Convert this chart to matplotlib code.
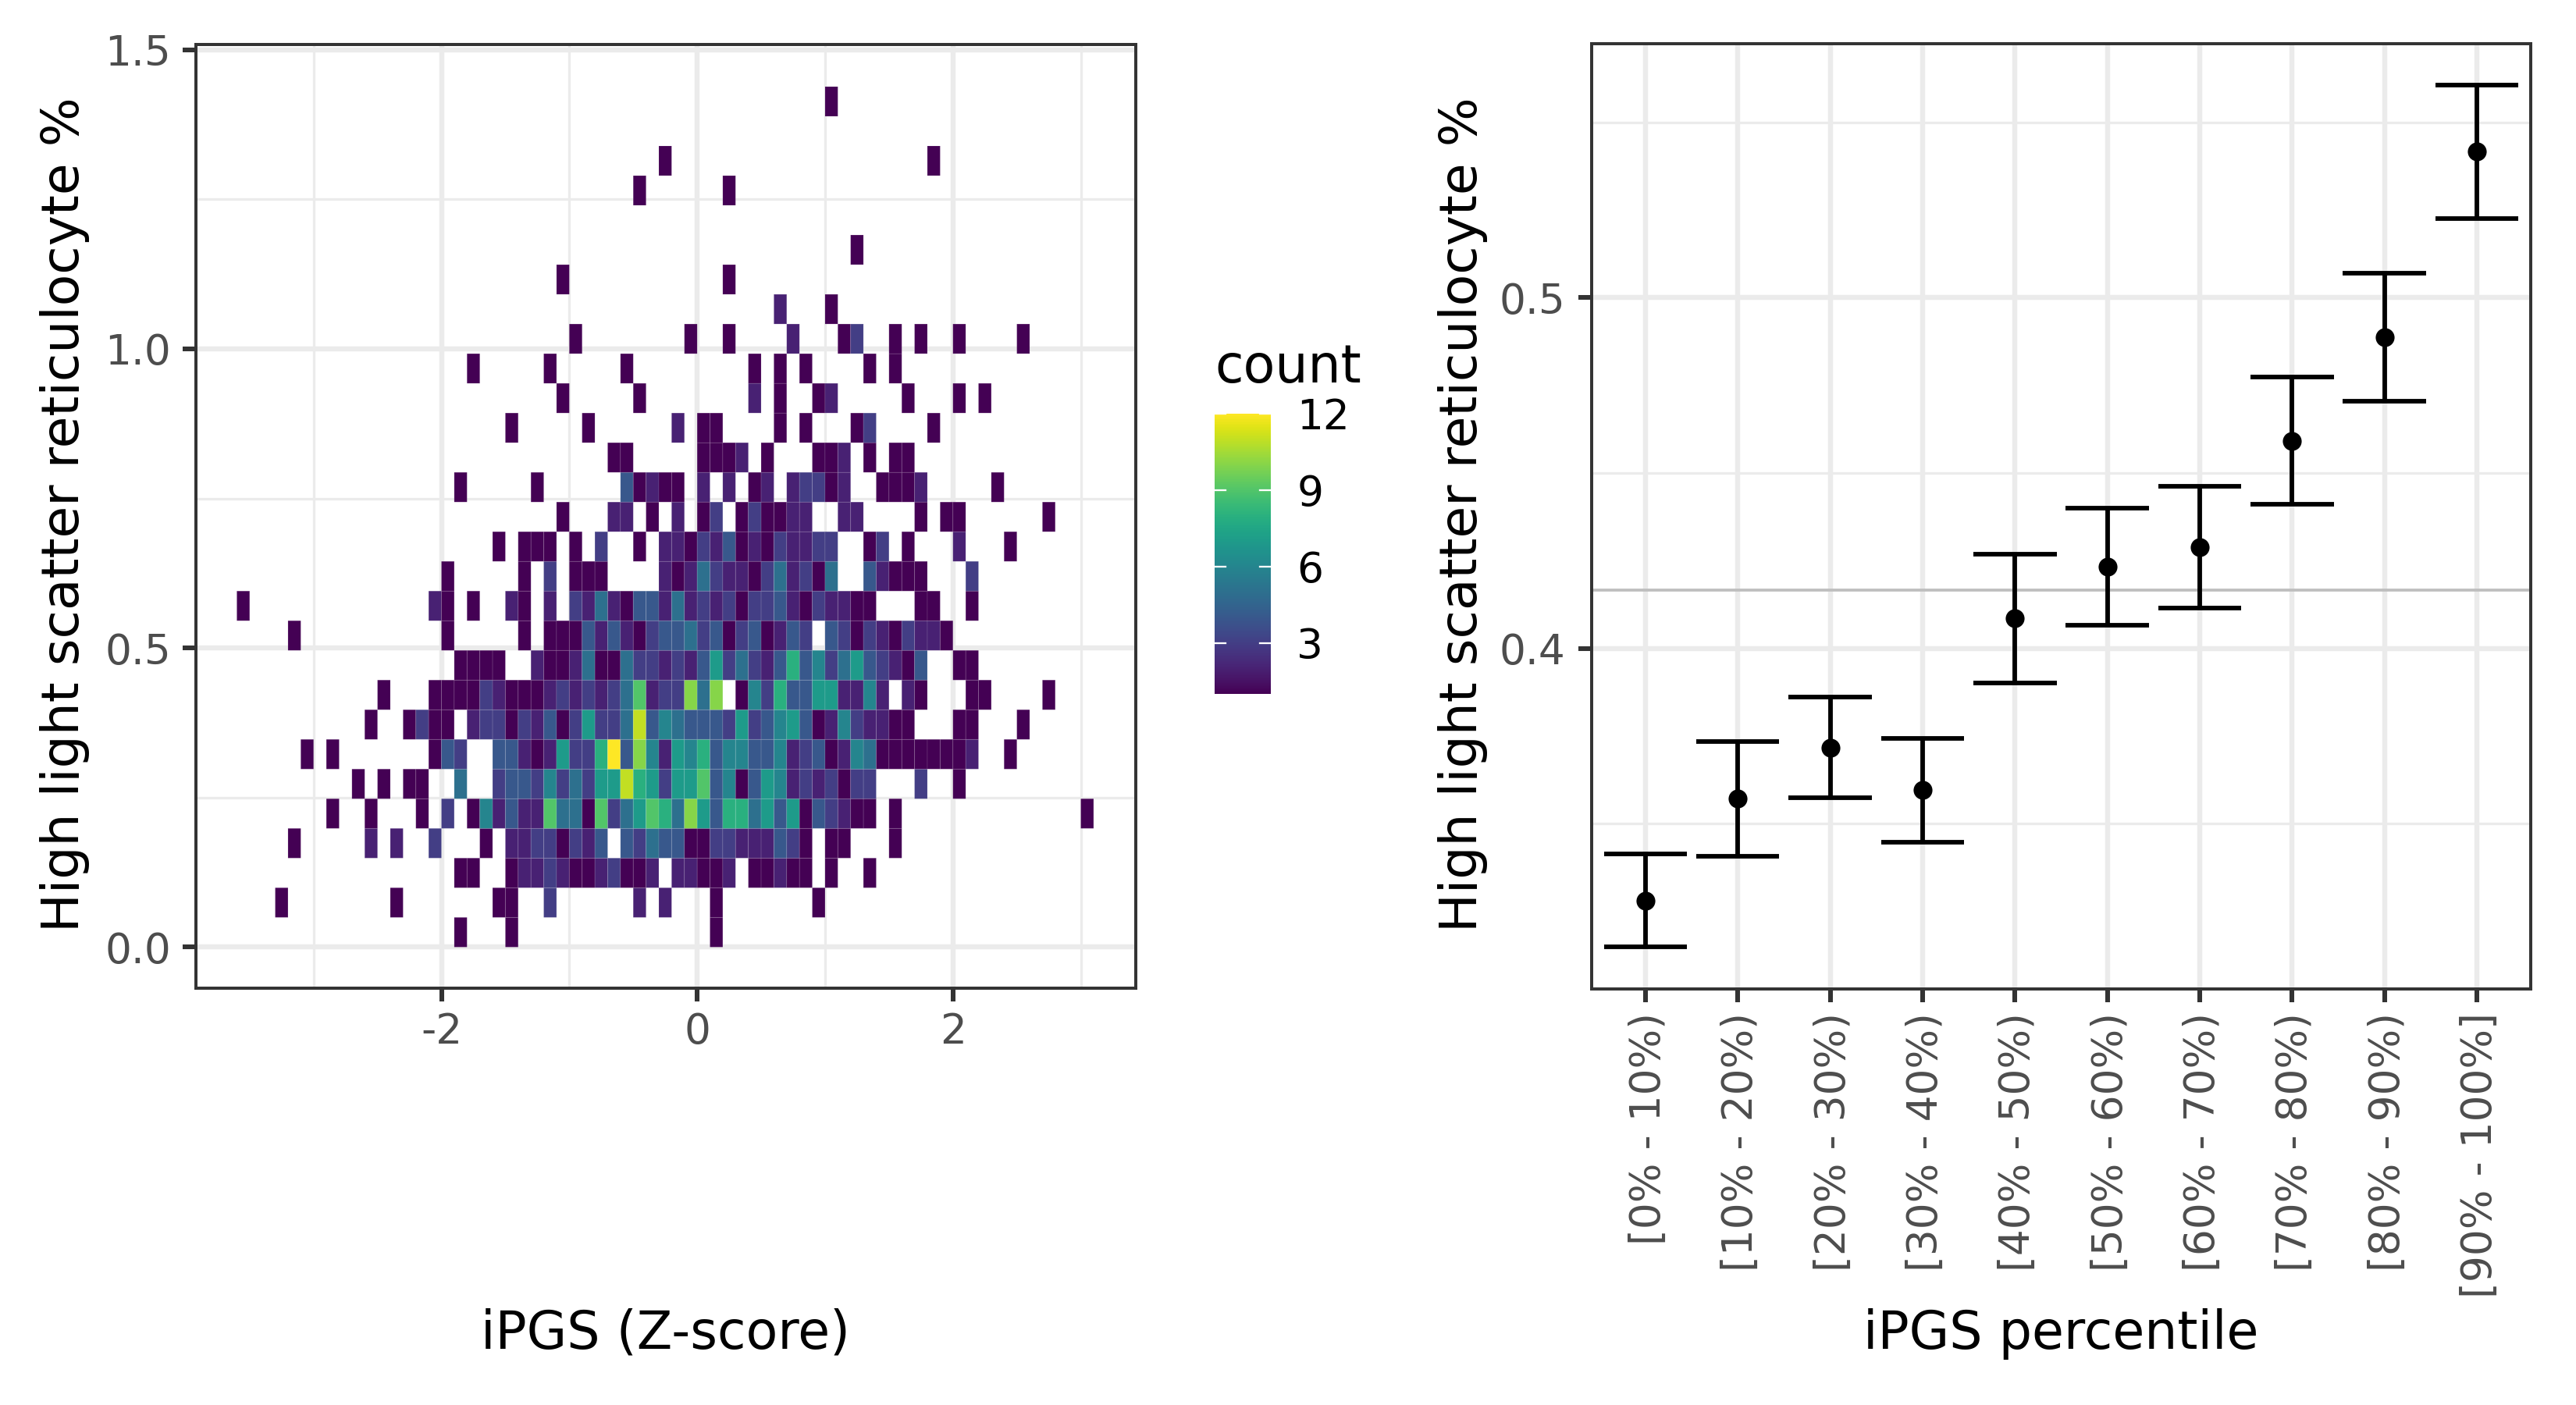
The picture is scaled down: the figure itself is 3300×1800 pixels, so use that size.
import numpy as np
import matplotlib
matplotlib.use("Agg")
import matplotlib.pyplot as plt
from matplotlib.transforms import ScaledTranslation

# ---------- left panel: count per bin, {x bin index (x = index * width): count}
row_00 = {-19:1,-15:1,1:1}
row_01 = {-33:1,-24:1,-16:1,-15:1,-12:3,-5:2,-3:2,1:1,9:1}
row_02 = {-19:1,-18:1,-15:1,-14:2,-13:2,-12:3,-11:2,-10:1,-9:1,-8:2,-7:3,-6:1,-5:1,-4:2,-2:2,-1:2,0:1,1:1,2:2,4:1,5:1,6:2,7:1,8:1,10:1,13:1}
row_03 = {-32:1,-26:2,-24:2,-21:3,-17:1,-15:2,-14:2,-13:3,-12:3,-11:1,-10:3,-9:2,-8:4,-6:4,-5:3,-4:5,-3:4,-2:4,-1:1,0:1,1:3,2:3,3:2,4:2,5:2,6:4,7:3,8:1,10:1,11:1,15:1}
row_04 = {-29:1,-26:1,-22:1,-20:3,-18:1,-17:6,-16:2,-15:4,-14:2,-13:2,-12:9,-11:5,-10:5,-9:1,-8:9,-7:3,-6:5,-5:7,-4:9,-3:8,-2:5,-1:10,0:7,1:4,2:8,3:8,4:5,5:7,6:4,7:7,8:1,9:4,10:3,11:2,12:1,13:1,15:1,30:1}
row_05 = {-27:1,-25:1,-23:1,-22:1,-19:5,-16:3,-15:4,-14:4,-13:3,-12:6,-11:3,-10:5,-9:3,-8:7,-7:7,-6:11,-5:8,-4:7,-3:3,-2:7,-1:7,0:9,1:4,2:6,3:1,4:4,5:7,6:6,7:2,8:3,9:2,10:3,11:1,12:3,13:3,17:3,20:1}
row_06 = {-31:1,-29:1,-21:1,-20:4,-19:3,-16:4,-15:4,-14:2,-13:1,-12:2,-11:7,-10:3,-9:3,-8:8,-7:12,-6:4,-5:10,-4:6,-3:2,-2:7,-1:6,0:8,1:4,2:6,3:6,4:4,5:4,6:6,7:2,8:3,9:4,10:1,11:2,12:6,13:5,14:1,15:1,16:1,17:1,18:1,19:1,20:1,21:2,24:1}
row_07 = {-26:1,-23:1,-22:3,-21:1,-20:1,-18:2,-17:3,-16:3,-15:1,-14:3,-13:2,-12:4,-11:1,-10:3,-9:7,-8:3,-7:3,-6:5,-5:11,-4:4,-3:6,-2:5,-1:4,0:4,1:4,2:3,3:7,4:3,5:4,6:6,7:7,8:4,9:1,10:2,11:6,12:3,13:2,14:2,15:1,16:1,20:1,21:1,25:1}
row_08 = {-25:1,-21:1,-20:1,-19:1,-18:1,-17:3,-16:2,-15:1,-14:1,-13:1,-12:2,-11:3,-10:2,-9:3,-8:2,-7:3,-6:5,-5:9,-4:2,-3:3,-2:3,-1:10,0:5,1:10,3:1,4:6,5:3,6:8,7:4,8:4,9:7,10:7,11:2,12:2,13:6,14:2,16:2,17:1,21:1,22:1,27:1}
row_09 = {-19:1,-18:1,-17:1,-16:1,-13:2,-12:1,-11:1,-10:2,-9:5,-8:1,-7:1,-6:5,-5:3,-4:3,-3:2,-2:3,-1:2,0:4,1:7,2:3,3:5,4:3,5:2,6:4,7:8,8:4,9:6,10:3,11:5,12:7,13:4,14:3,15:2,16:1,17:4,20:1,21:1}
row_10 = {-32:1,-20:1,-14:1,-12:1,-11:1,-10:1,-9:4,-8:2,-7:4,-6:2,-5:1,-4:3,-3:4,-2:4,-1:5,0:3,1:4,2:1,3:3,4:4,5:1,6:2,7:4,8:3,10:4,11:3,12:1,13:3,14:2,15:1,16:3,17:2,18:2,19:1}
row_11 = {-36:1,-21:2,-20:1,-18:1,-15:2,-14:1,-12:2,-10:3,-9:2,-8:5,-7:2,-6:1,-5:4,-4:4,-3:2,-2:5,-1:2,0:3,1:2,2:3,3:1,4:3,5:3,6:4,7:2,8:1,9:3,10:2,11:2,12:1,13:1,17:1,18:1,21:1}
row_12 = {-20:1,-14:1,-12:3,-10:1,-9:1,-8:1,-3:2,-2:1,-1:2,0:5,1:3,2:2,3:2,4:1,5:3,6:5,7:2,8:3,9:1,10:5,13:4,14:2,15:1,16:1,17:1,21:3}
row_13 = {-16:1,-14:1,-13:1,-12:1,-10:1,-8:3,-5:1,-3:2,-2:2,-1:1,0:3,1:2,2:4,3:1,4:2,5:1,6:3,7:2,8:2,9:3,10:3,13:1,14:3,16:1,20:2,24:1}
row_14 = {-11:1,-7:2,-6:2,-4:1,-2:2,0:1,1:3,3:1,4:3,5:1,6:1,7:2,8:2,11:2,12:2,17:1,19:1,20:1,27:1}
row_15 = {-19:1,-13:1,-6:4,-5:1,-4:2,-3:1,-2:1,0:2,2:2,4:1,5:2,7:2,8:3,9:3,10:1,11:2,14:1,15:1,16:1,17:2,23:1}
row_16 = {-7:1,-6:1,0:1,1:1,2:1,3:2,5:1,9:1,10:1,11:2,13:1,15:1,16:1}
row_17 = {-15:1,-9:1,-2:2,0:1,1:1,6:1,8:1,12:1,13:3,18:1}
row_18 = {-11:1,-5:1,4:2,6:1,9:1,10:2,16:1,20:1,22:1}
row_19 = {-18:1,-12:1,-6:1,4:1,6:1,8:1,13:1,15:1}
row_20 = {-10:1,-1:1,2:1,7:2,11:1,12:3,15:1,17:1,20:1,25:1}
row_21 = {6:2,10:1}
row_22 = {-11:1,2:1}
row_23 = {12:1}
row_24 = {}
row_25 = {-5:1,2:1}
row_26 = {-3:1,18:1}
row_27 = {}
row_28 = {10:1}
count_rows = [row_00,row_01,row_02,row_03,row_04,row_05,row_06,row_07,row_08,row_09,
              row_10,row_11,row_12,row_13,row_14,row_15,row_16,row_17,row_18,row_19,
              row_20,row_21,row_22,row_23,row_24,row_25,row_26,row_27,row_28]
x_bin_width = 0.1
y_bin_height = 0.0496
x_bin_first, x_bin_last = -36, 30

# ---------- right panel
percentile_labels = ["[0% - 10%)","[10% - 20%)","[20% - 30%)","[30% - 40%)","[40% - 50%)",
                     "[50% - 60%)","[60% - 70%)","[70% - 80%)","[80% - 90%)","[90% - 100%]"]
means = [0.3281,0.3571,0.3717,0.3596,0.4085,0.4232,0.4288,0.4591,0.4887,0.5416]
upper = [0.3414,0.3734,0.3862,0.3743,0.4268,0.4399,0.4462,0.4773,0.5069,0.5605]
lower = [0.3149,0.3407,0.3574,0.3447,0.3901,0.4065,0.4114,0.4412,0.4704,0.5226]
overall_mean = 0.4167

ylabel = "High light scatter reticulocyte %"

plt.rcParams["font.family"] = ["DejaVu Sans"]
W, H = 3300, 1800
fig = plt.figure(figsize=(11, 6), dpi=300, facecolor="white")

def px_axes(l, t, r, b):
    return fig.add_axes([l / W, 1 - b / H, (r - l) / W, (b - t) / H])

GRID = "#EBEBEB"; DARK = "#333333"; TXT = "#4D4D4D"

def style(ax, pad=3.6):
    ax.set_axisbelow(True)
    ax.grid(which="major", color=GRID, lw=1.55)
    ax.grid(which="minor", color=GRID, lw=0.78)
    ax.tick_params(which="major", length=4.1, width=1.45, color=DARK,
                   labelcolor=TXT, labelsize=12.8, pad=pad)
    ax.tick_params(axis="x", which="major", pad=3.2)
    ax.tick_params(which="minor", length=0)
    for s in ax.spines.values():
        s.set_color(DARK); s.set_linewidth(0.95); s.set_zorder(10)

# ----- left
ax1 = px_axes(251, 56.5, 1455, 1266)
xe = np.arange(x_bin_first, x_bin_last + 2) * x_bin_width
ye = np.arange(len(count_rows) + 1) * y_bin_height
grid = np.ma.masked_all((len(count_rows), x_bin_last - x_bin_first + 1))
for k, row in enumerate(count_rows):
    for c, n in row.items():
        grid[k, c - x_bin_first] = n
mesh = ax1.pcolor(xe, ye, grid, cmap="viridis", vmin=1, vmax=12,
                  edgecolors=(1, 1, 1, 0.1), linewidth=0.25, zorder=3)
ax1.set_xlim(-3.92, 3.43)
ax1.set_ylim(-0.0687, 1.5095)
ax1.set_xticks([-2, 0, 2]); ax1.set_xticklabels(["-2", "0", "2"])
ax1.set_xticks([-3, -1, 1, 3], minor=True)
ax1.set_yticks([0, 0.5, 1.0, 1.5]); ax1.set_yticklabels(["0.0", "0.5", "1.0", "1.5"])
ax1.set_yticks([0.25, 0.75, 1.25], minor=True)
style(ax1)

# ----- colourbar
cax = px_axes(1556, 530, 1628, 889)
cb = fig.colorbar(mesh, cax=cax)
cb.outline.set_visible(False)
cb.set_ticks([3, 6, 9, 12])
cb.set_ticklabels(["3", "6", "9", "12"])
cax.tick_params(length=0, labelsize=12.8, labelcolor="black", pad=8.0)
for v in [3, 6, 9, 12]:
    cax.plot([0, 0.2], [v, v], color="white", lw=0.55, transform=cax.get_yaxis_transform(), clip_on=False)
    cax.plot([0.8, 1], [v, v], color="white", lw=0.55, transform=cax.get_yaxis_transform(), clip_on=False)
fig.text(1556 / W, 1 - 490 / H, "count", fontsize=16, color="black", ha="left", va="baseline")

# ----- right
ax2 = px_axes(2038.6, 56, 3242, 1266.5)
x = np.arange(1, len(means) + 1)
ax2.axhline(overall_mean, color="#BEBEBE", lw=0.9, zorder=2)
ax2.errorbar(x, means, yerr=[np.array(means) - np.array(lower), np.array(upper) - np.array(means)],
             fmt="none", ecolor="black", elinewidth=1.4, capsize=0, zorder=3)
ax2.hlines(upper, x - 0.45, x + 0.45, color="black", lw=1.4, zorder=3)
ax2.hlines(lower, x - 0.45, x + 0.45, color="black", lw=1.4, zorder=3)
ax2.plot(x, means, "o", color="black", ms=5.8, mew=0, zorder=4)
ax2.set_xlim(0.415, 10.583)
ax2.set_ylim(0.3030, 0.5724)
ax2.set_xticks(x)
ax2.set_xticklabels(percentile_labels, rotation=90, ha="center", va="top")
ax2.set_yticks([0.4, 0.5]); ax2.set_yticklabels(["0.4", "0.5"])
ax2.set_yticks([0.35, 0.45, 0.55], minor=True)
style(ax2, pad=4.0)
shift = ScaledTranslation(4 / 300, 0, fig.dpi_scale_trans)
for lab in ax2.get_xticklabels():
    lab.set_transform(lab.get_transform() + shift)

# ----- titles
fig.text(83 / W, 1 - 659.5 / H, ylabel, fontsize=15.95, rotation=90, ha="center", va="center")
fig.text(1874 / W, 1 - 659.5 / H, ylabel, fontsize=15.95, rotation=90, ha="center", va="center")
fig.text(853 / W, 1 - 1709 / H, "iPGS (Z-score)", fontsize=16, ha="center", va="center")
fig.text(2640 / W, 1 - 1709 / H, "iPGS percentile", fontsize=16, ha="center", va="center")

fig.savefig("out.png", dpi=300, facecolor="white")
